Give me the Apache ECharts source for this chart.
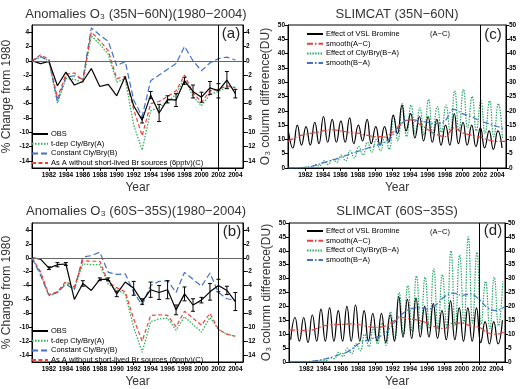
<!DOCTYPE html>
<html><head><meta charset="utf-8">
<script src="https://cdn.jsdelivr.net/npm/echarts@6/dist/echarts.min.js"></script>
<style>html,body{margin:0;padding:0;background:#fff}#c{width:520px;height:389px}</style>
</head><body><div id="c"></div><script>
// ---------- data ----------
const years = [1980,1981,1982,1983,1984,1985,1986,1987,1988,1989,1990,1991,1992,1993,1994,1995,1996,1997,1998,1999,2000,2001,2002,2003,2004];
const yearTicks = [1982,1984,1986,1988,1990,1992,1994,1996,1998,2000,2002,2004];
const anomTicks = [-14,-12,-10,-8,-6,-4,-2,0,2,4];
const duTicks = [0,5,10,15,20,25,30,35,40,45,50];

// panel (a) 35N-60N anomalies (%)
const aOBS = [0,-0.4,-0.1,-3.5,-1.6,-3.4,-2.9,-1.1,-3.6,-3.3,-4.9,-2.2,-6.3,-8.3,-4.8,-7.3,-5.4,-5.5,-2.8,-4.3,-5.1,-3.8,-4.2,-2.7,-4.6];
const aErr = [null,null,null,null,null,null,null,null,null,null,null,null,null,0.4,0.5,1.2,0.5,0.9,0.5,0.9,0.7,0.9,1.0,1.2,0.6];
const aA = [0,0.5,0,-5.9,-2.5,-2.6,-3.1,3.5,2.3,0.9,-3.0,-2.5,-9.0,-12.5,-7.0,-6.5,-5.7,-4.7,-2.5,-5.0,-6.3,-4.7,-4.3,-3.7,-3.7];
const aB = [0,0.6,0,-5.7,-2.3,-2.1,-2.6,4.6,3.6,2.7,-0.7,-0.1,-5.5,-7.8,-2.8,-2.0,-1.2,-0.4,2.0,0.0,-1.4,-0.3,0.3,0.5,0.1];
const aC = [0,0.8,0.2,-5.2,-1.9,-1.7,-2.8,4.0,2.8,1.4,-2.5,-2.2,-6.8,-10.5,-6.0,-5.7,-5.0,-4.2,-2.0,-4.5,-5.8,-4.2,-4.0,-3.5,-3.8];

// panel (b) 60S-35S anomalies (%)
const bOBS = [0,-0.2,-1.5,-1.0,-0.9,-6.0,-3.7,-4.7,-3.1,-3.1,-5.2,-3.5,-4.4,-6.3,-4.6,-5.0,-4.6,-7.5,-5.2,-6.8,-6.1,-4.9,-4.0,-4.7,-6.3];
const bErr = [null,null,0.2,0.3,0.2,null,0.4,null,0.2,0.2,0.4,null,1.0,0.4,1.1,1.0,1.3,0.7,1.0,0.9,0.4,1.2,0.9,0.6,1.3];
const bA = [0,-2.2,-5.5,-5.0,-3.6,-4.5,-0.9,-1.0,-1.0,-3.8,-4.6,-5.2,-10.0,-13.6,-9.2,-8.8,-8.7,-10.4,-8.5,-9.6,-10.7,-8.6,-10.3,-11.0,-11.3];
const bB = [0,-2.5,-5.4,-5.0,-3.8,-4.6,0.1,0.3,0.8,-2.1,-2.4,-2.3,-5.0,-6.8,-4.0,-3.4,-3.3,-5.0,-2.1,-3.1,-4.1,-2.2,-5.0,-5.9,-6.1];
const bC = [0,-2.0,-5.3,-4.9,-3.4,-4.2,-0.4,-0.5,-0.5,-3.5,-4.3,-4.9,-8.8,-12.0,-8.3,-8.2,-8.3,-9.9,-7.7,-8.7,-9.7,-8.0,-10.3,-11.0,-11.3];

// panel (c) SLIMCAT 35N-60N (DU): seasonal peaks / troughs per year
const cVslPeak   = [12.5,15,14.5,16,18,17,16.5,17.5,15,17,14.5,14.5,18.5,22,19,18,18,17,15,19,16,15,14,13,13];
const cVslTrough = [7,8,8,8.5,9,9,9,8.5,9.5,8.5,8,9,12,13,10.5,9.5,9,8,8,8.5,8,7.5,7,6.5,7];
const cClyPeak   = [0,0,0.3,1.2,2.5,3,4.5,6,7.5,9,10,11,18,22.5,22,21,24,21.5,22,27,27.5,25,23.5,23.5,22.5];
const cClyTrough = [0,0,0.2,0.7,1.2,2,2.5,3.5,4.5,5.5,6,6.5,9.5,11,12,11.5,12,12.5,12.5,13,14,13,12,11,10.5];
const smoothYears = [1980,1981,1982,1983,1984,1985,1986,1987,1988,1989,1990,1991,1992,1993,1994,1995,1996,1997,1998,1999,2000,2001,2002,2003,2004,2005];
const cSmoothAC = [9.3,10.8,11.8,12.3,13.0,13.4,13.0,12.5,12.2,11.5,11.0,11.0,12.5,15.5,16.8,15.5,13.5,11.8,11.0,14.0,12.3,11.5,10.8,9.8,9.3,9.3];
const cSmoothBA = [0,0,0.2,0.8,1.8,2.7,3.7,4.8,5.8,6.8,7.8,8.8,11.5,15.5,17,16.5,16,15.5,16.5,20.5,19,18,16.5,15.5,14.5,13.5];

// panel (d) SLIMCAT 60S-35S (DU)
const dVslPeak   = [16,16,17,19,19.5,18.5,20,20.5,18.5,17.5,17.5,17,23.5,22.5,23,20,21,18.5,22,19.5,19.5,19.5,14.5,14.5,15];
const dVslTrough = [8,7.5,7,7.5,7.5,7.5,7.5,7.5,7.5,7.5,7.5,7,7.5,9,8.5,9,9,8.5,8,8,7.5,7.5,7,6.5,6.5];
const dClyPeak   = [0,0,0.2,0.7,1.5,3.5,5,6.5,10,12,14,18,25,27.5,31,30.5,33.5,31.5,40,38.5,45,39.5,29,30.5,29];
const dClyTrough = [0,0,0,0.2,0.5,1.2,2,3,4,5.5,6.5,6,8,10,11,12,12,12,12.5,13,14,14,13.5,12,13];
const dSmoothAC = [11.5,11.5,11.2,11.8,13.0,13.5,13.5,13.7,13.5,12.8,12.5,12.8,14.5,16.0,15.5,15.0,14.0,12.5,12.0,14.0,14.0,13.0,12.5,10.5,10.0,11.0];
const dSmoothBA = [0,0,0.1,0.4,1.0,1.8,2.8,4.0,6.5,7.8,8.8,10.0,13.5,17.0,19.0,19.5,19.0,20.5,23.5,24.8,24.0,24.5,22.5,19.5,18.5,20.0];

// ---------- helpers ----------
const FONT = 'Liberation Sans';
const pairs = (xs, ys) => xs.map((x, i) => [x, ys[i]]);
function seasonal(peaks, peakPh, troughs, troughPh) {
  const pts = [];
  years.forEach((y, i) => { pts.push([y + peakPh, peaks[i]]); pts.push([y + troughPh, troughs[i]]); });
  pts.sort((p, q) => p[0] - q[0]);
  return pts;
}
function errData(vals, errs) {
  const out = [];
  years.forEach((y, i) => { if (errs[i] != null) out.push([y, vals[i], errs[i]]); });
  return out;
}
const GREEN = '#2fb356', BLUE = '#3f72c8', RED = '#e8413c';

const grids = [
  {left: 30, top: 25, width: 213, height: 143},
  {left: 30, top: 223, width: 213, height: 142},
  {left: 288, top: 25, width: 218, height: 143},
  {left: 289, top: 223, width: 216, height: 143}
];
const xMax = [2004.9, 2004.9, 2005, 2005];
const xAxes = grids.map((g, i) => ({
  type: 'value', gridIndex: i, min: 1980, max: xMax[i],
  name: 'Year', nameLocation: 'middle', nameGap: 14,
  nameTextStyle: {fontSize: 12, color: '#333', fontFamily: FONT},
  axisLine: {onZero: false, lineStyle: {color: '#000', width: 1}},
  axisTick: {customValues: yearTicks, length: 3, lineStyle: {color: '#000'}},
  axisLabel: {customValues: yearTicks, formatter: v => String(v), fontSize: 6.5, fontWeight: 'bold', color: '#000', margin: 4, fontFamily: FONT},
  splitLine: {show: false}
}));
function yAx(i, pos, isAnom) {
  const ticks = isAnom ? anomTicks : duTicks;
  const o = {
    type: 'value', gridIndex: i, position: pos,
    min: isAnom ? -15 : 0, max: isAnom ? 5 : 50,
    axisLine: {show: true, onZero: false, lineStyle: {color: '#000', width: 1}},
    axisTick: {show: true, customValues: ticks, length: 3, lineStyle: {color: '#000'}},
    axisLabel: {customValues: ticks, formatter: v => String(v), fontSize: 6.5, fontWeight: 'bold', color: '#000', margin: 3, fontFamily: FONT},
    splitLine: {show: false}
  };
  if (pos === 'left') {
    o.name = isAnom ? '% Change from 1980' : 'O\u2083 column difference(DU)';
    o.nameLocation = 'middle';
    o.nameGap = isAnom ? 19 : 16;
    o.nameTextStyle = {fontSize: 12, color: '#333', fontFamily: FONT};
  }
  return o;
}
const yAxes = [
  yAx(0, 'left', true), yAx(1, 'left', true), yAx(2, 'left', false), yAx(3, 'left', false),
  yAx(0, 'right', true), yAx(1, 'right', true), yAx(2, 'right', false), yAx(3, 'right', false)
];

function markLines(withZero) {
  const d = [{xAxis: 2002}];
  if (withZero) d.push({yAxis: 0, lineStyle: {color: '#666', width: 1, type: 'solid'}});
  return {silent: true, symbol: 'none', label: {show: false}, animation: false,
          lineStyle: {color: '#000', width: 1, type: 'solid'}, data: d};
}
function line(name, idx, data, color, type, width, smooth, z) {
  return {name, type: 'line', xAxisIndex: idx, yAxisIndex: idx, data, symbol: 'none', showSymbol: false,
          smooth: smooth || false, z: z || 2,
          lineStyle: {color, type, width: width || 1.2}, itemStyle: {color}};
}
function errSeries(idx, data) {
  return {
    type: 'custom', xAxisIndex: idx, yAxisIndex: idx, data, z: 5, silent: true,
    renderItem: (params, api) => {
      const x = api.value(0), y = api.value(1), e = api.value(2);
      const t = api.coord([x, y + e]), b = api.coord([x, y - e]);
      const st = {stroke: '#000', lineWidth: 1};
      return {type: 'group', children: [
        {type: 'line', shape: {x1: t[0], y1: t[1], x2: b[0], y2: b[1]}, style: st},
        {type: 'line', shape: {x1: t[0] - 2, y1: t[1], x2: t[0] + 2, y2: t[1]}, style: st},
        {type: 'line', shape: {x1: b[0] - 2, y1: b[1], x2: b[0] + 2, y2: b[1]}, style: st}
      ]};
    }
  };
}

const series = [];
// (a)
series.push(Object.assign(line('OBS', 0, pairs(years, aOBS), '#000', 'solid', 1.2, false, 4), {markLine: markLines(true)}));
series.push(line('t-dep Cly/Bry(A)', 0, pairs(years, aA), GREEN, [1.5, 1.5], 1.3));
series.push(line('Constant Cly/Bry(B)', 0, pairs(years, aB), BLUE, [6, 3], 1.2));
series.push(line('As A without short-lived Br sources (6pptv)(C)', 0, pairs(years, aC), RED, [4, 2.5], 1.2));
series.push(errSeries(0, errData(aOBS, aErr)));
// (b)
series.push(Object.assign(line('OBS', 1, pairs(years, bOBS), '#000', 'solid', 1.2, false, 4), {markLine: markLines(true)}));
series.push(line('t-dep Cly/Bry(A)', 1, pairs(years, bA), GREEN, [1.5, 1.5], 1.3));
series.push(line('Constant Cly/Bry(B)', 1, pairs(years, bB), BLUE, [6, 3], 1.2));
series.push(line('As A without short-lived Br sources (6pptv)(C)', 1, pairs(years, bC), RED, [4, 2.5], 1.2));
series.push(errSeries(1, errData(bOBS, bErr)));
// (c)
series.push(line('Effect of Cly/Bry(B\u2212A)', 2, seasonal(cClyPeak, 0.12, cClyTrough, 0.6), '#2aa86a', [1.5, 1.2], 1.2, 0.5, 2));
series.push(Object.assign(line('Effect of VSL Bromine', 2, seasonal(cVslPeak, 0.07, cVslTrough, 0.55), '#000', 'solid', 1.2, 0.5, 3), {markLine: markLines(false)}));
series.push(line('smooth(A\u2212C)', 2, pairs(smoothYears, cSmoothAC), RED, [6, 2, 1.5, 2], 1.2, 0.4, 4));
series.push(line('smooth(B\u2212A)', 2, pairs(smoothYears, cSmoothBA), BLUE, [6, 2, 1.5, 2], 1.2, 0.4, 4));
// (d)
series.push(line('Effect of Cly/Bry(B\u2212A)', 3, seasonal(dClyPeak, 0.75, dClyTrough, 0.25), '#2aa86a', [1.5, 1.2], 1.2, 0.5, 2));
series.push(Object.assign(line('Effect of VSL Bromine', 3, seasonal(dVslPeak, 0.7, dVslTrough, 0.2), '#000', 'solid', 1.2, 0.5, 3), {markLine: markLines(false)}));
series.push(line('smooth(A\u2212C)', 3, pairs(smoothYears, dSmoothAC), RED, [6, 2, 1.5, 2], 1.2, 0.4, 4));
series.push(line('smooth(B\u2212A)', 3, pairs(smoothYears, dSmoothBA), BLUE, [6, 2, 1.5, 2], 1.2, 0.4, 4));

const legAB = ['OBS', 't-dep Cly/Bry(A)', 'Constant Cly/Bry(B)', 'As A without short-lived Br sources (6pptv)(C)'];
const legCD = ['Effect of VSL Bromine', 'smooth(A\u2212C)', 'Effect of Cly/Bry(B\u2212A)', 'smooth(B\u2212A)'];
function legend(left, top, data, fs) {
  return {left, top, orient: 'vertical', data, selectedMode: false, itemWidth: 16, itemHeight: 7,
          itemGap: 1.7, padding: 0,
          itemStyle: {opacity: 0},
          textStyle: {fontSize: fs, color: '#000', fontFamily: FONT, padding: [0, 0, 0, -2]}};
}

function txt(x, y, s, size, color) {
  return {type: 'text', x, y, silent: true,
          style: {text: s, fontSize: size, fontFamily: FONT, fill: color || '#222', textAlign: 'center', textVerticalAlign: 'middle'}};
}

const option = {
  animation: false,
  backgroundColor: '#fff',
  grid: grids.map(g => Object.assign({show: true, borderColor: '#000', borderWidth: 1, backgroundColor: 'transparent'}, g)),
  xAxis: xAxes,
  yAxis: yAxes,
  legend: [
    legend(31, 130, legAB, 7.5),
    legend(31, 327, legAB, 7.5),
    legend(306, 30, legCD, 7.5),
    legend(306, 227, legCD, 7.5)
  ],
  series,
  graphic: [
    txt(136, 14, 'Anomalies O\u2083 (35N\u221260N)(1980\u22122004)', 13, '#333'),
    txt(136, 211, 'Anomalies O\u2083 (60S\u221235S)(1980\u22122004)', 13, '#333'),
    txt(397, 14, 'SLIMCAT (35N\u221260N)', 13, '#333'),
    txt(397, 211, 'SLIMCAT (60S\u221235S)', 13, '#333'),
    txt(231, 34, '(a)', 15),
    txt(232, 232, '(b)', 15),
    txt(493, 35, '(c)', 15),
    txt(493, 231, '(d)', 15),
    txt(440, 34, '(A\u2212C)', 7.5, '#000'),
    txt(440, 232, '(A\u2212C)', 7.5, '#000')
  ]
};
echarts.init(document.getElementById('c')).setOption(option);
</script></body></html>
